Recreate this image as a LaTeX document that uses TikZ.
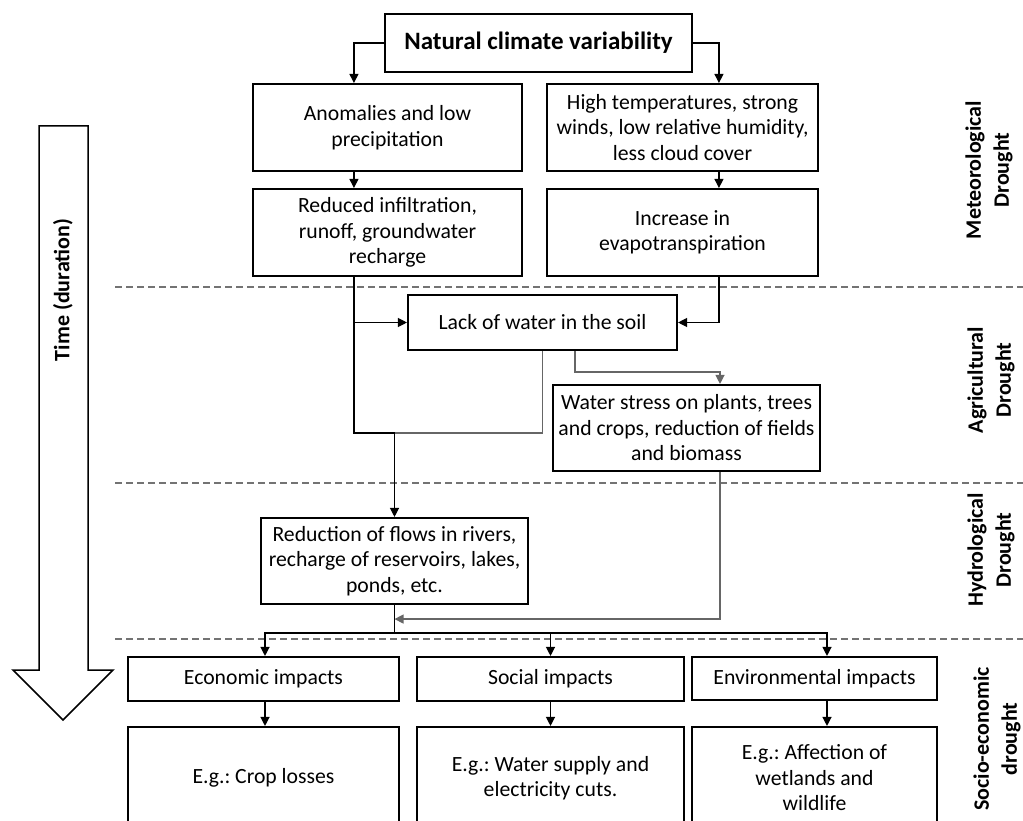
\documentclass[tikz,border=0pt]{standalone}
\usepackage{fontspec}
\setmainfont{Carlito}
\usetikzlibrary{arrows.meta}
\frenchspacing
\begin{document}
\begin{tikzpicture}[x=1pt,y=-1pt,
  box/.style={draw, line width=2.1pt, inner sep=0pt, align=center,
    font=\fontsize{21.7}{25.5}\selectfont},
  side/.style={align=center, inner sep=0pt, font=\fontsize{22}{28}\selectfont\bfseries},
  conn/.style={line width=1.2pt, -{Triangle[width=9pt,length=9pt]}},
  gconn/.style={conn, draw=black!60},
  plain/.style={line width=1.2pt},
  gplain/.style={line width=1.2pt, draw=black!60},
  dline/.style={line width=1.2pt, draw=black!55, dash pattern=on 7pt off 4pt},
  bigarrow/.style={draw, line width=1.5pt, fill=white}
]
\useasboundingbox (0,0) rectangle (1023,821);

% dashed separators
\draw[dline] (115,287) -- (1023,287);
\draw[dline] (115,483) -- (1023,483);
\draw[dline] (115,639) -- (1023,639);

% time arrow
\draw[bigarrow] (39,126) -- (88,126) -- (88,670) -- (113,670) -- (63,720) -- (13,670) -- (39,670) -- cycle;
\node[side, rotate=90] (time) at (63,290) {Time (duration)};

% boxes
\node[box, minimum width=307pt, minimum height=58pt] (top) at (538.5,43) {\fontsize{25}{30}\selectfont\bfseries Natural climate variability};
\node[box, minimum width=269pt, minimum height=87pt] (anom) at (387.5,127.5) {Anomalies and low\\precipitation};
\node[box, minimum width=271pt, minimum height=87pt] (high) at (682.5,127.5) {High temperatures, strong\\winds, low relative humidity,\\less cloud cover};
\node[box, minimum width=269pt, minimum height=87pt] (red) at (387.5,232.5) {Reduced infiltration,\\runoff, groundwater\\recharge};
\node[box, minimum width=271pt, minimum height=87pt] (inc) at (682.5,232.5) {Increase in\\evapotranspiration};
\node[box, minimum width=269pt, minimum height=55pt] (lack) at (542.5,322.5) {Lack of water in the soil};
\node[box, minimum width=267pt, minimum height=86pt] (ws) at (686.5,428) {Water stress on plants, trees\\and crops, reduction of fields\\and biomass};
\node[box, minimum width=267pt, minimum height=86pt] (hyd) at (394.5,561) {Reduction of flows in rivers,\\recharge of reservoirs, lakes,\\ponds, etc.};
\node[box, minimum width=271pt, minimum height=44pt] (eco) at (263.5,679) {Economic impacts};
\node[box, minimum width=267pt, minimum height=44pt] (soc) at (550.5,679) {Social impacts};
\node[box, minimum width=245pt, minimum height=43pt] (env) at (814.5,678.5) {Environmental impacts};
\node[box, minimum width=271pt, minimum height=102pt] (ex1) at (263.5,778) {E.g.: Crop losses};
\node[box, minimum width=267pt, minimum height=102pt] (ex2) at (550.5,778) {E.g.: Water supply and\\electricity cuts.};
\node[box, minimum width=245pt, minimum height=102pt] (ex3) at (814.5,778) {E.g.: Affection of\\wetlands and\\wildlife};

% side labels
\node[side, rotate=90] (met) at (989,170) {Meteorological\\Drought};
\node[side, rotate=90] (agr) at (991,380) {Agricultural\\Drought};
\node[side, rotate=90] (hydl) at (991,550) {Hydrological\\Drought};
\node[side, rotate=90] (soci) at (997,739) {Socio-economic\\drought};

% junctions
\coordinate (j1) at ([yshift=84pt]hyd.north);
\coordinate (j2) at ([yshift=-14pt]hyd.south);
\coordinate (bus) at ([yshift=-28pt]hyd.south);

% connectors
\draw[conn] (top.west) -| ([xshift=102pt]anom.north west);
\draw[conn] (top.east) -| ([xshift=173pt]high.north west);
\draw[conn] ([xshift=102pt]anom.south west) -- ([xshift=102pt]red.north west);
\draw[conn] ([xshift=173pt]high.south west) -- ([xshift=173pt]inc.north west);
\draw[conn] ([xshift=102pt]red.south west) |- (lack.west);
\draw[conn] ([xshift=173pt]inc.south west) |- (lack.east);
\draw[plain] ([xshift=102pt]red.south west) |- (j1);
\draw[gplain] (lack.south) |- (j1);
\draw[conn] (j1) -- (hyd.north);
\draw[gconn] ([xshift=32.5pt]lack.south) -- ++(0,21) -| ([xshift=33.5pt]ws.north);
\draw[gconn] ([xshift=33.5pt]ws.south) |- (j2);
\draw[plain] (hyd.south) -- (bus);
\draw[conn] (bus) -| ([xshift=1.5pt]eco.north);
\draw[conn] (bus) -| (soc.north);
\draw[conn] (bus) -| ([xshift=12.5pt]env.north);
\draw[conn] ([xshift=1.5pt]eco.south) -- ([xshift=1.5pt]ex1.north);
\draw[conn] (soc.south) -- (ex2.north);
\draw[conn] ([xshift=12.5pt]env.south) -- ([xshift=12.5pt]ex3.north);
\end{tikzpicture}
\end{document}
